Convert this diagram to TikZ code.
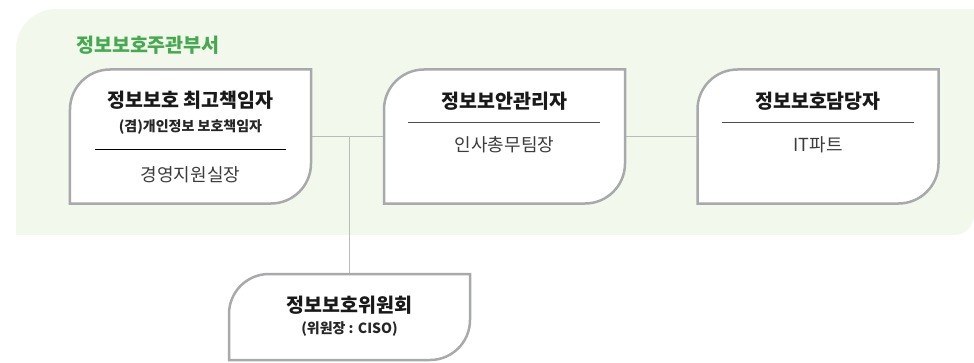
\documentclass[tikz,border=0pt]{standalone}
\usepackage{fontspec}
\setmainfont{Noto Sans CJK KR}
\definecolor{bggreen}{HTML}{F2F8EC}
\definecolor{hgreen}{HTML}{45AA4F}
\definecolor{bordergray}{HTML}{A8A9AB}
\definecolor{linkgray}{HTML}{B9BCB9}
\definecolor{subgray}{HTML}{3C3C3C}
\tikzset{
  boxarea/.style={rectangle,inner sep=0pt,outer sep=0pt,minimum width=241bp},
  boxline/.style={draw=bordergray,line width=2.5bp,fill=white},
  link/.style={draw=linkgray,line width=1.5bp},
  titletxt/.style={inner sep=0pt,font=\fontsize{19.5bp}{22bp}\selectfont\bfseries,text=black!90},
  smalltxt/.style={inner sep=0pt,font=\fontsize{14bp}{16bp}\selectfont\bfseries,text=black!85},
  subtxt/.style={inner sep=0pt,font=\fontsize{18bp}{20bp}\selectfont,text=subgray},
  divider/.style={line width=1bp}
}
\newcommand\orgshape[1]{%
  \draw[boxline] (#1.north east) -- ([xshift=40bp]#1.north west)
    arc[start angle=90,end angle=180,radius=40bp] -- (#1.south west)
    -- ([xshift=-40bp]#1.south east)
    arc[start angle=-90,end angle=0,radius=40bp] -- cycle;}
\begin{document}
\begin{tikzpicture}[x=1bp,y=1bp]
\useasboundingbox (0,0) rectangle (974,362);
% background
\fill[bggreen] (16,127) -- (16,313) arc[start angle=180,end angle=90,radius=40bp]
  -- (974,353) -- (974,147) arc[start angle=0,end angle=-90,radius=20bp] -- cycle;
\node[anchor=west,inner sep=0pt,text=hgreen,font=\fontsize{19.5bp}{22bp}\selectfont\bfseries] (hdr) at (76,317) {정보보호주관부서};
% box areas
\node[boxarea,minimum height=134bp] (b1) at (190.5,225.5) {};
\node[boxarea,minimum height=134bp] (b2) at (504.5,225.5) {};
\node[boxarea,minimum height=134bp] (b3) at (818,225.5) {};
\node[boxarea,minimum height=86bp] (b4) at (349.5,45) {};
\coordinate (j) at (b4.north |- b1.east);
% connectors
\draw[link] (b1.east) -- (b2.west);
\draw[link] (b2.east) -- (b3.west);
\draw[link] (j) -- (b4.north);
% boxes
\orgshape{b1}
\orgshape{b2}
\orgshape{b3}
\orgshape{b4}
% box 1
\node[titletxt] (t1) at (190.5,262) {정보보호 최고책임자};
\node[smalltxt] (s1) at (190.5,235) {(겸)개인정보 보호책임자};
\draw[divider,black] ([xshift=25bp]b1.west |- 0,213) coordinate (l1a) -- ([xshift=216bp]b1.west |- 0,213) coordinate (l1b);
\node[subtxt] (u1) at (190.5,187) {경영지원실장};
% box 2
\node[titletxt] (t2) at (504.5,261) {정보보안관리자};
\draw[divider,black!70] ([xshift=24bp]b2.west |- 0,240) -- ([xshift=216bp]b2.west |- 0,240);
\node[subtxt] (u2) at (504.5,217) {인사총무팀장};
% box 3
\node[titletxt] (t3) at (818,261) {정보보호담당자};
\draw[divider,black!70] ([xshift=24bp]b3.west |- 0,240) -- ([xshift=216bp]b3.west |- 0,240);
\node[subtxt] (u3) at (818,217) {IT파트};
% box 4
\node[titletxt] (t4) at (349.5,57) {정보보호위원회};
\node[smalltxt] (s4) at (349.5,33) {(위원장 : CISO)};
\end{tikzpicture}
\end{document}
